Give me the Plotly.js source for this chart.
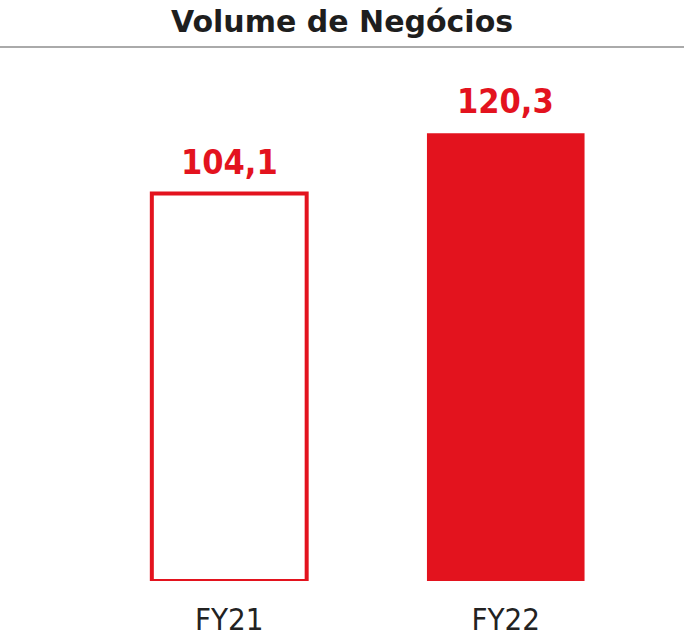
<!DOCTYPE html>
<html>
<head>
<meta charset="utf-8">
<script src="https://cdn.plot.ly/plotly-3.0.1.min.js"></script>
<style>html,body{margin:0;padding:0;background:#fff;}#chart{width:684px;height:639px;}</style>
</head>
<body>
<div id="chart"></div>
<script>
const categories = ["FY21", "FY22"];
const values = [104.1, 120.3];
const chartTitle = "Volume de Negócios";

const RED = "#E3131E";
const W = 684, H = 639;
const M = {l: 91, r: 40, t: 60, b: 58};
const pw = W - M.l - M.r;

const fmt = v => v.toFixed(1).replace(".", ",");

const traces = [
  {
    type: "bar",
    x: [categories[0]],
    y: [values[0]],
    width: 0.56,
    marker: {color: "rgba(255,255,255,0)", line: {color: RED, width: 4}},
    hoverinfo: "none"
  },
  {
    type: "bar",
    x: [categories[1]],
    y: [values[1]],
    width: 0.57,
    marker: {color: RED, line: {width: 0}},
    hoverinfo: "none"
  }
];

const annotations = categories.map((c, i) => ({
  x: c, y: values[i], xref: "x", yref: "y",
  text: "<b>" + fmt(values[i]) + "</b>",
  showarrow: false, yanchor: "bottom", yshift: 10,
  font: {family: "DejaVu Sans Condensed, DejaVu Sans, sans-serif", size: 34, color: RED}
}));

const layout = {
  width: W, height: H,
  margin: M,
  paper_bgcolor: "#fff", plot_bgcolor: "#fff",
  showlegend: false,
  barmode: "overlay",
  title: {
    text: "<b>" + chartTitle + "</b>",
    font: {family: "DejaVu Sans, sans-serif", size: 30, color: "#1e1e1e"},
    x: 0.5, xanchor: "center", xref: "container",
    y: 1 - 21 / H, yanchor: "middle", yref: "container"
  },
  xaxis: {
    type: "category",
    categories: categories,
    range: [-0.5, 1.5],
    showgrid: false, zeroline: false, showline: false,
    ticks: "",
    tickfont: {family: "DejaVu Sans Condensed, sans-serif", size: 31, color: "#222"},
    ticklabelstandoff: 17
  },
  yaxis: {
    range: [0, 140],
    visible: false,
    showgrid: false, zeroline: false
  },
  annotations: annotations,
  shapes: [{
    type: "line", xref: "paper", yref: "paper",
    x0: -M.l / pw, x1: (W - M.l) / pw,
    y0: 1 + (M.t - 47) / (H - M.t - M.b), y1: 1 + (M.t - 47) / (H - M.t - M.b),
    line: {color: "#aaaaaa", width: 2}
  }]
};

Plotly.newPlot("chart", traces, layout, {displayModeBar: false, staticPlot: true});
</script>
</body>
</html>
